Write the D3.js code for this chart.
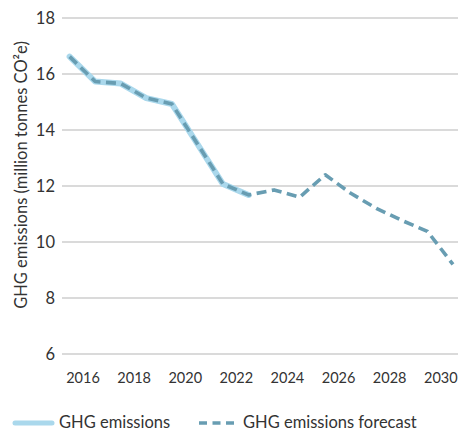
<!DOCTYPE html>
<html>
<head>
<meta charset="utf-8">
<script src="https://cdn.jsdelivr.net/npm/d3@7"></script>
<style>
  html, body { margin: 0; padding: 0; background: #fff; }
  svg text { font-family: Lato, "Open Sans", sans-serif; fill: #333; }
</style>
</head>
<body>
<svg id="chart" width="459" height="432"></svg>
<script>
// ---- data ----
const histYears = [2015, 2016, 2017, 2018, 2019, 2020, 2021, 2022];
const histValues = [16.62, 15.73, 15.66, 15.14, 14.93, 13.5, 12.07, 11.68];
const forecastYears = [2015, 2016, 2017, 2018, 2019, 2020, 2021, 2022, 2023, 2024, 2025, 2026, 2027, 2028, 2029, 2030];
const forecastValues = [16.62, 15.73, 15.66, 15.14, 14.93, 13.5, 12.07, 11.68, 11.86, 11.6, 12.4, 11.74, 11.2, 10.77, 10.38, 9.2];
const xTickYears = [2016, 2018, 2020, 2022, 2024, 2026, 2028, 2030];
const yTicks = [6, 8, 10, 12, 14, 16, 18];
const yTitle = "GHG emissions (million tonnes CO²e)";
const legendLabels = ["GHG emissions", "GHG emissions forecast"];

// ---- layout ----
const svg = d3.select("#chart");
const plotLeft = 62, plotRight = 458;
const midYear = y => new Date(Date.UTC(y, 6, 1));
const jan1 = y => new Date(Date.UTC(y, 0, 1));

const x = d3.scaleUtc()
  .domain([jan1(2016), jan1(2030)])
  .range([82.5, 440.3]);
const y = d3.scaleLinear().domain([6, 18]).range([354, 18]);

const histColor = "#aad8ec";
const fcColor = "#689db2";

// gridlines
svg.append("g")
  .selectAll("line")
  .data(yTicks)
  .join("line")
  .attr("x1", plotLeft).attr("x2", plotRight)
  .attr("y1", d => y(d)).attr("y2", d => y(d))
  .attr("stroke", "#dadada").attr("stroke-width", 2);

// y axis labels
const yAxis = d3.axisLeft(y).tickValues(yTicks).tickSize(0).tickPadding(0).tickFormat(d3.format("d"));
const gy = svg.append("g").attr("transform", "translate(55,0)").call(yAxis);
gy.select(".domain").remove();
gy.selectAll("text").style("font-size", "16.5px").attr("fill", "#333").attr("dy", "0.34em");

// x axis labels
const xAxis = d3.axisBottom(x).tickValues(xTickYears.map(jan1)).tickSize(0).tickPadding(0).tickFormat(d3.utcFormat("%Y"));
const gx = svg.append("g").attr("transform", "translate(0,373)").call(xAxis);
gx.select(".domain").remove();
gx.selectAll("text").style("font-size", "14.5px").attr("fill", "#333").attr("dy", "0.72em");

// y title
svg.append("text")
  .attr("transform", "translate(27,175) rotate(-90)")
  .attr("text-anchor", "middle")
  .style("font-size", "16.5px")
  .text(yTitle);

const line = d3.line()
  .x(d => x(midYear(d[0])))
  .y(d => y(d[1]));

// historical
svg.append("path")
  .datum(d3.zip(histYears, histValues))
  .attr("d", line)
  .attr("fill", "none")
  .attr("stroke", histColor)
  .attr("stroke-width", 6)
  .attr("stroke-linejoin", "round")
  .attr("stroke-linecap", "round");

// forecast
svg.append("path")
  .datum(d3.zip(forecastYears, forecastValues))
  .attr("d", line)
  .attr("fill", "none")
  .attr("stroke", fcColor)
  .attr("stroke-width", 3.6)
  .attr("stroke-dasharray", "10,5.5")
  .attr("stroke-linejoin", "round");

// legend
const leg = svg.append("g");
leg.append("line").attr("x1", 15).attr("x2", 52).attr("y1", 423).attr("y2", 423)
  .attr("stroke", histColor).attr("stroke-width", 5).attr("stroke-linecap", "round");
leg.append("text").attr("x", 59).attr("y", 428).style("font-size", "16.5px").text(legendLabels[0]);
leg.append("line").attr("x1", 199).attr("x2", 234).attr("y1", 423).attr("y2", 423)
  .attr("stroke", fcColor).attr("stroke-width", 3.6).attr("stroke-dasharray", "8,5.5");
leg.append("text").attr("x", 243).attr("y", 428).style("font-size", "16.5px").text(legendLabels[1]);
</script>
</body>
</html>
